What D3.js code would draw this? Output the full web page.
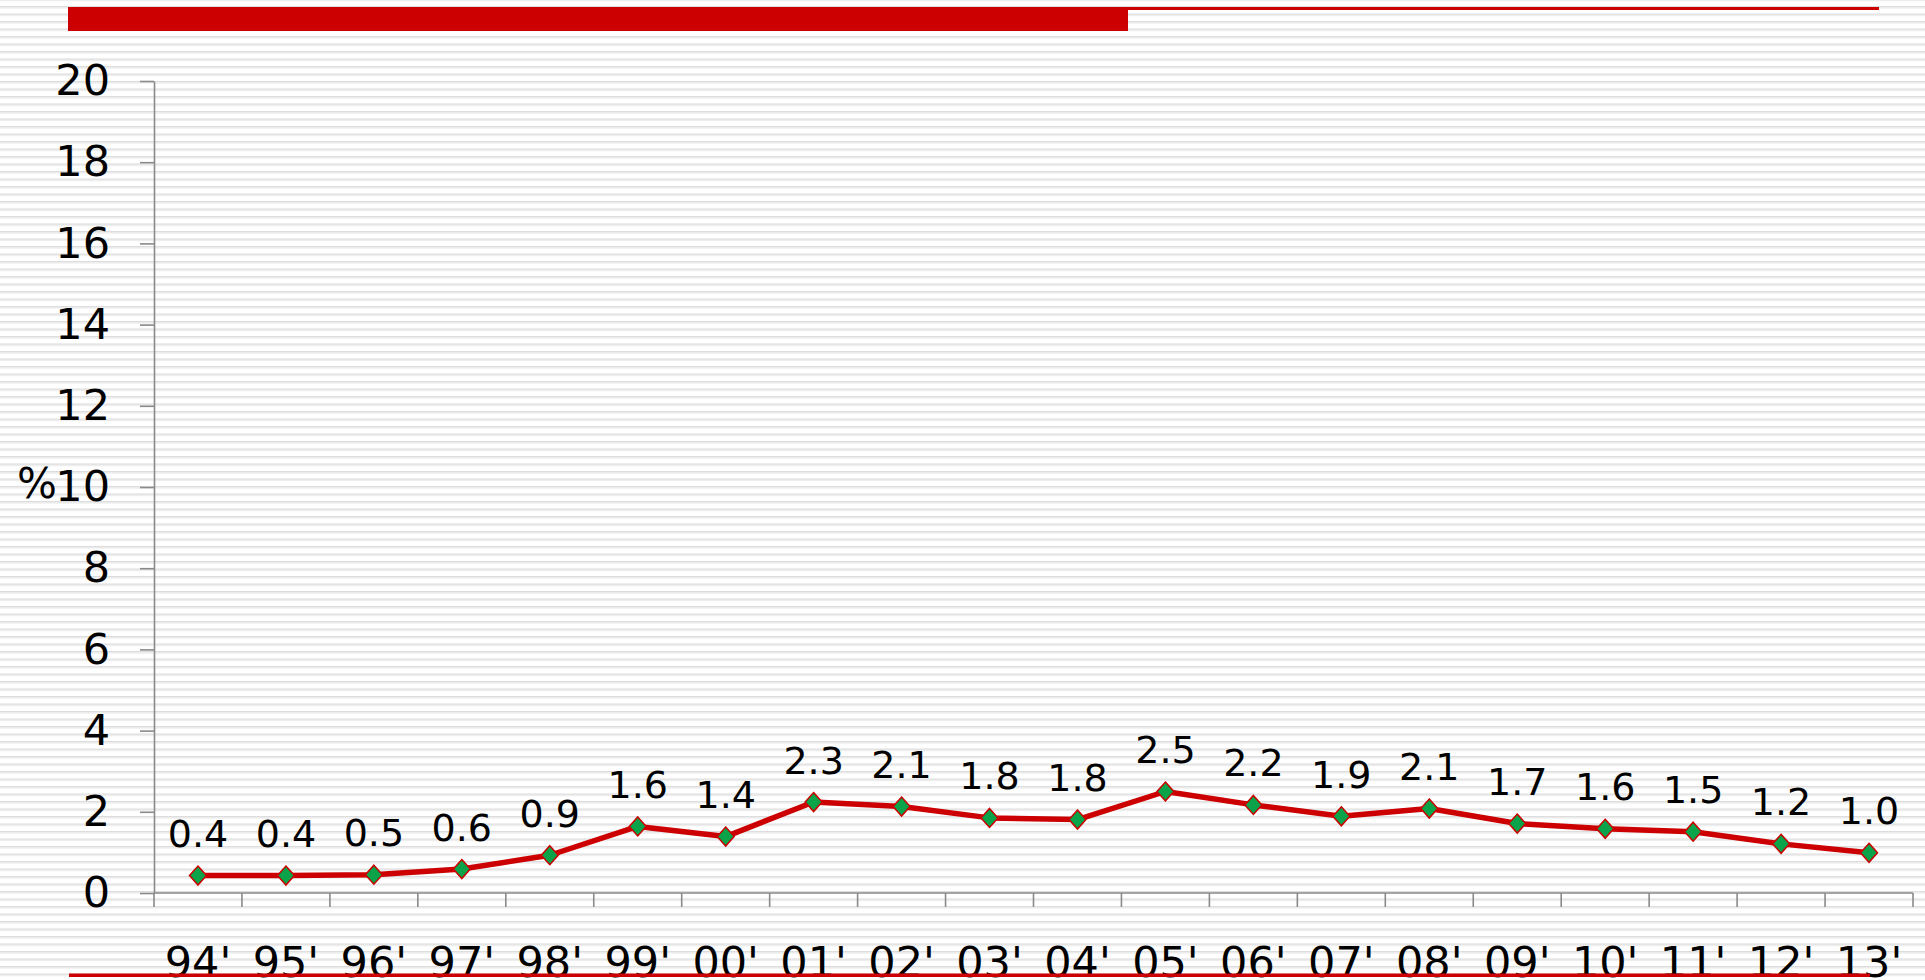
<!DOCTYPE html>
<html>
<head>
<meta charset="utf-8">
<script src="https://cdn.jsdelivr.net/npm/d3@7"></script>
<style>
  html, body { margin: 0; padding: 0; background: #fff; overflow: hidden; }
  svg { display: block; font-family: "DejaVu Sans", Verdana, sans-serif; }
</style>
</head>
<body>
<div id="chart"></div>
<script>
// data
var years = ["94'", "95'", "96'", "97'", "98'", "99'", "00'", "01'", "02'", "03'",
             "04'", "05'", "06'", "07'", "08'", "09'", "10'", "11'", "12'", "13'"];
var values = [0.43, 0.43, 0.45, 0.59, 0.93, 1.64, 1.39, 2.24, 2.13, 1.85,
              1.81, 2.50, 2.17, 1.89, 2.08, 1.71, 1.58, 1.51, 1.21, 0.99];
var valueLabels = ["0.4", "0.4", "0.5", "0.6", "0.9", "1.6", "1.4", "2.3", "2.1", "1.8",
                   "1.8", "2.5", "2.2", "1.9", "2.1", "1.7", "1.6", "1.5", "1.2", "1.0"];
var yTicks = [0, 2, 4, 6, 8, 10, 12, 14, 16, 18, 20];

var W = 1925, H = 980;
var red = "#cc0000";

var svg = d3.select("#chart").append("svg")
    .attr("width", W)
    .attr("height", H);

// striped slide background
var pat = svg.append("defs").append("pattern")
    .attr("id", "stripes")
    .attr("patternUnits", "userSpaceOnUse")
    .attr("x", 0).attr("y", 6)
    .attr("width", 20).attr("height", 7.5);
pat.append("rect").attr("width", 20).attr("height", 7.5).attr("fill", "#ffffff");
pat.append("rect").attr("y", 0).attr("width", 20).attr("height", 1.5).attr("fill", "#dcdcdc");
pat.append("rect").attr("y", 1.5).attr("width", 20).attr("height", 1.2).attr("fill", "#eeeeee");

svg.append("rect").attr("width", W).attr("height", H).attr("fill", "url(#stripes)");

// top title bar + thin rule
svg.append("rect").attr("x", 68).attr("y", 7).attr("width", 1128 - 68).attr("height", 24).attr("fill", red);
svg.append("rect").attr("x", 1128).attr("y", 7).attr("width", 1879 - 1128).attr("height", 3).attr("fill", red);

// scales
var x = d3.scaleBand()
    .domain(years)
    .range([154, 1913]);

var y = d3.scaleLinear()
    .domain([0, 20])
    .range([893, 81]);

// y axis
var yAxis = d3.axisLeft(y)
    .tickValues(yTicks)
    .tickSizeInner(14)
    .tickSizeOuter(0)
    .tickPadding(30);

var gy = svg.append("g")
    .attr("transform", "translate(154,0)")
    .call(yAxis);
gy.select(".domain").attr("stroke", "#8a8a8a").attr("stroke-width", 1.6);
gy.selectAll(".tick line").attr("stroke", "#8a8a8a").attr("stroke-width", 1.6);
gy.selectAll(".tick text")
    .attr("fill", "#000")
    .attr("font-size", "43px")
    .attr("font-family", "DejaVu Sans, Verdana, sans-serif");

svg.append("text")
    .attr("x", 57)
    .attr("y", y(10))
    .attr("dy", "0.26em")
    .attr("text-anchor", "end")
    .attr("font-size", "42px")
    .text("%");

// x axis: ticks at band boundaries
var gx = svg.append("g");
gx.append("line")
    .attr("x1", x.range()[0]).attr("x2", x.range()[1])
    .attr("y1", y(0)).attr("y2", y(0))
    .attr("stroke", "#8a8a8a").attr("stroke-width", 1.6);
var bounds = years.map(function(d) { return x(d); }).concat([x.range()[1]]);
gx.selectAll(".xtick")
    .data(bounds)
    .enter().append("line")
    .attr("class", "xtick")
    .attr("x1", function(d) { return d; })
    .attr("x2", function(d) { return d; })
    .attr("y1", y(0))
    .attr("y2", y(0) + 14)
    .attr("stroke", "#8a8a8a").attr("stroke-width", 1.6);

// bottom rule, under the labels
svg.append("rect").attr("x", 69).attr("y", 973.5).attr("width", 1870 - 69).attr("height", 3.5).attr("fill", red);

gx.selectAll(".xlabel")
    .data(years)
    .enter().append("text")
    .attr("class", "xlabel")
    .attr("x", function(d) { return x(d) + x.bandwidth() / 2; })
    .attr("y", 977)
    .attr("text-anchor", "middle")
    .attr("font-size", "43px")
    .attr("fill", "#000")
    .text(function(d) { return d; });

// line
var pts = years.map(function(d, i) { return {year: d, v: values[i], lab: valueLabels[i]}; });

var line = d3.line()
    .x(function(d) { return x(d.year) + x.bandwidth() / 2; })
    .y(function(d) { return y(d.v); });

svg.append("path")
    .datum(pts)
    .attr("d", line)
    .attr("fill", "none")
    .attr("stroke", red)
    .attr("stroke-width", 5.5)
    .attr("stroke-linejoin", "round");

// diamond markers
svg.selectAll(".marker")
    .data(pts)
    .enter().append("path")
    .attr("class", "marker")
    .attr("transform", function(d) { return "translate(" + (x(d.year) + x.bandwidth() / 2) + "," + y(d.v) + ")"; })
    .attr("d", "M0,-9.5L8.5,0L0,9.5L-8.5,0Z")
    .attr("fill", "#0aa34a")
    .attr("stroke", red)
    .attr("stroke-width", 1.5);

// value labels
svg.selectAll(".vlabel")
    .data(pts)
    .enter().append("text")
    .attr("class", "vlabel")
    .attr("x", function(d) { return x(d.year) + x.bandwidth() / 2; })
    .attr("y", function(d) { return y(d.v) - 28.5; })
    .attr("text-anchor", "middle")
    .attr("font-size", "38px")
    .attr("fill", "#000")
    .text(function(d) { return d.lab; });
</script>
</body>
</html>
